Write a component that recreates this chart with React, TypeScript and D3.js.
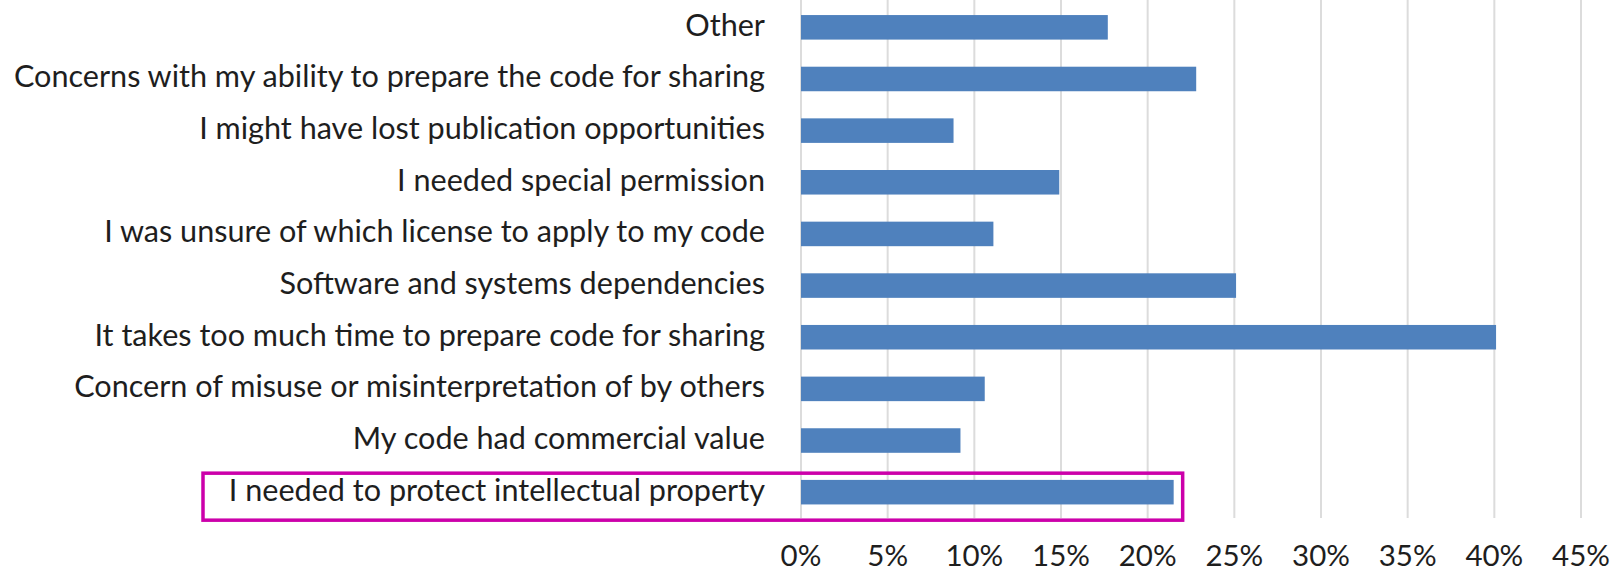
import * as d3 from 'd3';
import * as React from "react";

// reasons, top to bottom as drawn
const categories = [
    "Other",
    "Concerns with my ability to prepare the code for sharing",
    "I might have lost publication opportunities",
    "I needed special permission",
    "I was unsure of which license to apply to my code",
    "Software and systems dependencies",
    "It takes too much time to prepare code for sharing",
    "Concern of misuse or misinterpretation of by others",
    "My code had commercial value",
    "I needed to protect intellectual property",
];

// share of respondents, %
const values = [17.7, 22.8, 8.8, 14.9, 11.1, 25.1, 40.1, 10.6, 9.2, 21.5];

const xTicks = [0, 5, 10, 15, 20, 25, 30, 35, 40, 45];

// the row that is boxed in the picture
const highlighted = "I needed to protect intellectual property";

const width = 1618;
const height = 574;
const margin = { top: 1.5, right: 37, bottom: 56, left: 801 };
const font = "Lato, 'Open Sans', sans-serif";

export default function App() {
    const xScale = d3.scaleLinear()
        .domain([0, 45])
        .range([margin.left, width - margin.right]);

    const yScale = d3.scaleBand()
        .domain(categories)
        .range([margin.top, height - margin.bottom])
        .paddingInner(0.525)
        .paddingOuter(0.2625);

    const bw = yScale.bandwidth();
    const hy = (yScale(highlighted) ?? 0) + bw / 2;

    return (
        <svg width={width} height={height}
             style={{ position: "absolute", left: 0, top: 0, background: "white" }}>
            {/* vertical gridlines */}
            <g>
                {xTicks.map(t => (
                    <line key={t}
                          x1={xScale(t)} x2={xScale(t)}
                          y1={0} y2={height - margin.bottom}
                          stroke="#dcdcdc" strokeWidth={2} />
                ))}
            </g>

            {/* bars */}
            <g>
                {categories.map((c, i) => (
                    <rect key={c}
                          x={xScale(0)}
                          y={yScale(c)}
                          width={xScale(values[i]) - xScale(0)}
                          height={bw}
                          fill="#4f81bd" />
                ))}
            </g>

            {/* category labels */}
            <g fontFamily={font} fontSize={30.6} fill="#1e1e1e" textAnchor="end">
                {categories.map(c => (
                    <text key={c} x={margin.left - 36} y={(yScale(c) ?? 0) + bw / 2 + 8.5}>{c}</text>
                ))}
            </g>

            {/* x tick labels */}
            <g fontFamily={font} fontSize={29.5} fill="#1e1e1e" textAnchor="middle">
                {xTicks.map(t => (
                    <text key={t} x={xScale(t)} y={height - 8}>{t}%</text>
                ))}
            </g>

            {/* magenta box around the last row */}
            <rect x={203} y={hy - 19} width={xScale(values[9]) - 203 + 9} height={47}
                  fill="none" stroke="#cc00aa" strokeWidth={3.5} />
        </svg>
    );
}
